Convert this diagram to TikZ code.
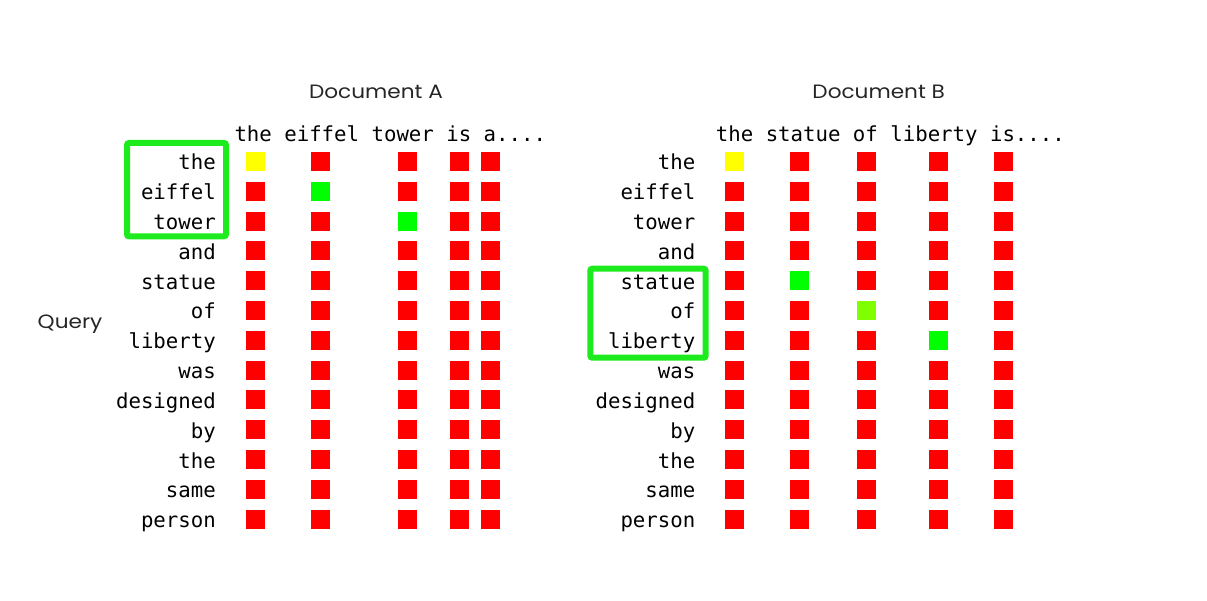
\documentclass[tikz,border=0pt]{standalone}
\usepackage{fontspec}
\newfontfamily\monof{DejaVu Sans Mono}
\newfontfamily\titlef[FakeStretch=1.12]{Poppins}
\definecolor{cred}{RGB}{255,0,0}
\definecolor{cyel}{RGB}{255,255,0}
\definecolor{cgrn}{RGB}{0,255,0}
\definecolor{clime}{RGB}{128,255,0}
\definecolor{boxgrn}{RGB}{30,235,30}
\tikzset{
  cell/.style={fill=cred, minimum size=19pt, inner sep=0pt, draw=none},
  qword/.style={font=\monof\fontsize{20.7}{24}\selectfont, anchor=base east, inner sep=0pt},
  dword/.style={font=\monof\fontsize{20.7}{24}\selectfont, anchor=base west, inner sep=0pt},
  ttl/.style={font=\titlef\fontsize{19.3}{22}\selectfont, text=black!85, anchor=base, inner sep=0pt},
  hlbox/.style={draw=boxgrn, line width=6pt, rounded corners=2pt}
}
\begin{document}
\begin{tikzpicture}[x=1pt,y=-1pt]
\useasboundingbox (0,0) rectangle (1207,601);
% titles
\node[ttl] (titleA) at (376,98.3) {Document A};
\node[ttl] (titleB) at (878.7,98.3) {Document B};
\node[ttl] (query) at (70,328.3) {Query};
% document headers
\node[dword] (hdrA) at (234.3,141.7) {the eiffel tower is a....};
\node[dword] (hdrB) at (715.7,141.7) {the statue of liberty is....};
% query words
\foreach \w [count=\i from 0] in {the,eiffel,tower,and,statue,of,liberty,was,designed,by,the,same,person}{
  \node[qword] (qA\i) at (216,162+29.8*\i+8) {\w};
  \node[qword] (qB\i) at (695.5,162+29.8*\i+8) {\w};
}
% cells doc A
\foreach \cx [count=\c from 0] in {255.3,320,407.3,459.3,490.7}{
  \foreach \r in {0,...,12}{
    \node[cell] (cA\r-\c) at (\cx,161.5+29.8*\r) {};
  }
}
% cells doc B
\foreach \cx [count=\c from 0] in {734.7,799.3,866,938.7,1003.7}{
  \foreach \r in {0,...,12}{
    \node[cell] (cB\r-\c) at (\cx,161.5+29.8*\r) {};
  }
}
% highlighted cells
\node[cell, fill=cyel] (hA0) at (cA0-0) {};
\node[cell, fill=cgrn] (hA1) at (cA1-1) {};
\node[cell, fill=cgrn] (hA2) at (cA2-2) {};
\node[cell, fill=cyel] (hB0) at (cB0-0) {};
\node[cell, fill=cgrn] (hB1) at (cB4-1) {};
\node[cell, fill=clime] (hB2) at (cB5-2) {};
\node[cell, fill=cgrn] (hB3) at (cB6-3) {};
% green boxes
\draw[hlbox] (127,143) rectangle (226,236.3);
\draw[hlbox] (590.3,268.7) rectangle (705.7,357.7);
\end{tikzpicture}
\end{document}
